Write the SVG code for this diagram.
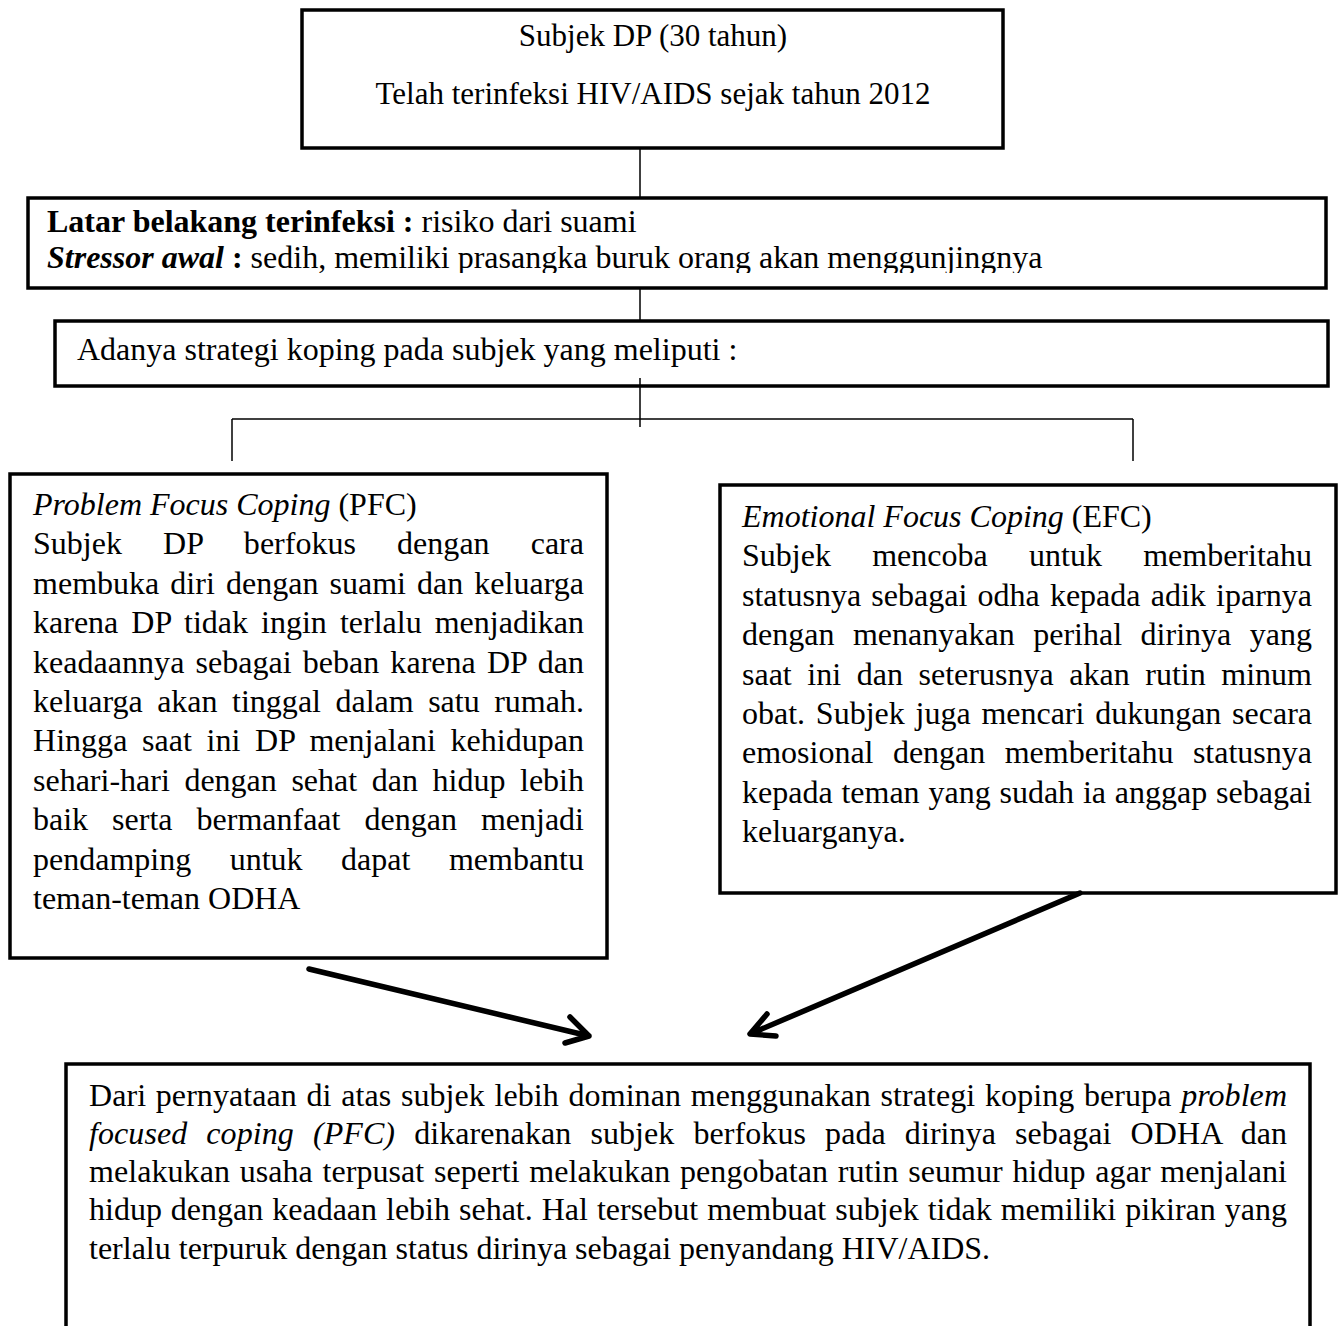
<svg xmlns="http://www.w3.org/2000/svg" width="1341" height="1326" viewBox="0 0 1341 1326">
<style>
text{font-family:"Liberation Serif","Times New Roman",serif;font-size:32px;fill:#000}
.box{fill:#fff;stroke:#000;stroke-width:3.5}
.ln{stroke:#000;stroke-width:1.5;fill:none}
.arr{stroke:#000;stroke-width:5.5;fill:none;stroke-linecap:round;stroke-linejoin:round}
.i{font-style:italic}
.b{font-weight:bold}
.t{font-size:31px}
</style>
<defs>
<clipPath id="c2"><rect x="28" y="198" width="1298" height="75"/></clipPath>
</defs>
<g id="connectors">
<line class="ln" x1="640" y1="148" x2="640" y2="198"/>
<line class="ln" x1="640" y1="288" x2="640" y2="320"/>
<line class="ln" x1="232" y1="419" x2="1133" y2="419"/>
<line class="ln" x1="232" y1="419" x2="232" y2="461"/>
<line class="ln" x1="1133" y1="419" x2="1133" y2="461"/>
</g>
<g id="n1">
<rect class="box" x="302" y="10" width="701" height="138"/>
<text class="t" x="653" y="46" text-anchor="middle">Subjek DP (30 tahun)</text>
<text class="t" x="653" y="104" text-anchor="middle">Telah terinfeksi HIV/AIDS sejak tahun 2012</text>
</g>
<g id="n2">
<rect class="box" x="28" y="198" width="1298" height="90"/>
<g clip-path="url(#c2)">
<text x="47" y="232"><tspan class="b">Latar belakang terinfeksi :</tspan> risiko dari suami</text>
<text x="47" y="268"><tspan class="b i">Stressor awal</tspan><tspan class="b"> :</tspan> sedih, memiliki prasangka buruk orang akan menggunjingnya</text>
</g>
</g>
<g id="n3">
<rect class="box" x="55" y="321" width="1273" height="65"/>
<text x="77" y="360">Adanya strategi koping pada subjek yang meliputi :</text>
</g>
<line class="ln" x1="640" y1="378" x2="640" y2="427"/>
<g id="n4">
<rect class="box" x="10" y="474" width="597" height="484"/>
<text x="33" y="515"><tspan class="i">Problem Focus Coping</tspan> (PFC)</text>
<text x="33" y="554" textLength="551" lengthAdjust="spacing" word-spacing="33">Subjek DP berfokus dengan cara</text>
<text x="33" y="594" textLength="551" lengthAdjust="spacing" word-spacing="3">membuka diri dengan suami dan keluarga</text>
<text x="33" y="633" textLength="551" lengthAdjust="spacing" word-spacing="5">karena DP tidak ingin terlalu menjadikan</text>
<text x="33" y="673" textLength="551" lengthAdjust="spacing" word-spacing="3">keadaannya sebagai beban karena DP dan</text>
<text x="33" y="712" textLength="551" lengthAdjust="spacing" word-spacing="6.4">keluarga akan tinggal dalam satu rumah.</text>
<text x="33" y="751" textLength="551" lengthAdjust="spacing" word-spacing="6.6">Hingga saat ini DP menjalani kehidupan</text>
<text x="33" y="791" textLength="551" lengthAdjust="spacing" word-spacing="6.6">sehari-hari dengan sehat dan hidup lebih</text>
<text x="33" y="830" textLength="551" lengthAdjust="spacing" word-spacing="16">baik serta bermanfaat dengan menjadi</text>
<text x="33" y="870" textLength="551" lengthAdjust="spacing" word-spacing="30.5">pendamping untuk dapat membantu</text>
<text x="33" y="909">teman-teman ODHA</text>
</g>
<g id="n5">
<rect class="box" x="720" y="485" width="616" height="408"/>
<text x="742" y="527"><tspan class="i">Emotional Focus Coping</tspan> (EFC)</text>
<text x="742" y="566" textLength="570" lengthAdjust="spacing" word-spacing="33.3">Subjek mencoba untuk memberitahu</text>
<text x="742" y="606" textLength="570" lengthAdjust="spacing" word-spacing="2.2">statusnya sebagai odha kepada adik iparnya</text>
<text x="742" y="645" textLength="570" lengthAdjust="spacing" word-spacing="10.5">dengan menanyakan perihal dirinya yang</text>
<text x="742" y="685" textLength="570" lengthAdjust="spacing" word-spacing="7.6">saat ini dan seterusnya akan rutin minum</text>
<text x="742" y="724" textLength="570" lengthAdjust="spacing" word-spacing="2.8">obat. Subjek juga mencari dukungan secara</text>
<text x="742" y="763" textLength="570" lengthAdjust="spacing" word-spacing="11.4">emosional dengan memberitahu statusnya</text>
<text x="742" y="803" textLength="570" lengthAdjust="spacing" word-spacing="0.8">kepada teman yang sudah ia anggap sebagai</text>
<text x="742" y="842">keluarganya.</text>
</g>
<g id="arrows">
<path class="arr" d="M309 969 L589 1036 M565 1043 L589 1036 L570 1017"/>
<path class="arr" d="M1080 893 L750 1034 M767 1014 L750 1034 L776 1036"/>
</g>
<g id="n6">
<rect class="box" x="66" y="1064" width="1244" height="280"/>
<text x="89" y="1106" textLength="1198" lengthAdjust="spacing" word-spacing="1.6">Dari pernyataan di atas subjek lebih dominan menggunakan strategi koping berupa <tspan class="i">problem</tspan></text>
<text x="89" y="1144" textLength="1198" lengthAdjust="spacing" word-spacing="11"><tspan class="i">focused coping (PFC)</tspan> dikarenakan subjek berfokus pada dirinya sebagai ODHA dan</text>
<text x="89" y="1182" textLength="1198" lengthAdjust="spacing" word-spacing="1.6">melakukan usaha terpusat seperti melakukan pengobatan rutin seumur hidup agar menjalani</text>
<text x="89" y="1220" textLength="1198" lengthAdjust="spacing" word-spacing="1">hidup dengan keadaan lebih sehat. Hal tersebut membuat subjek tidak memiliki pikiran yang</text>
<text x="89" y="1259">terlalu terpuruk dengan status dirinya sebagai penyandang HIV/AIDS.</text>
</g>
</svg>
